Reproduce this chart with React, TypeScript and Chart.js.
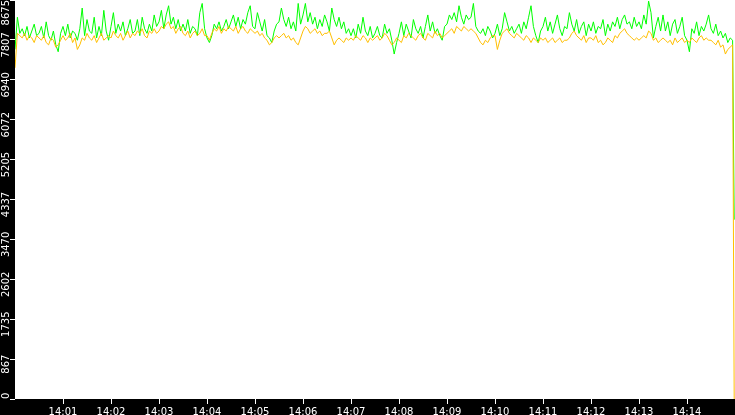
import React, { useEffect, useRef } from 'react';
import { Chart, registerables } from 'chart.js';
Chart.register(...registerables);

// one sample every 3 seconds from 14:00:00
const sampleStepSeconds = 3;
// the last sample (the drop) comes just before 14:15
const finalSampleSecond = 899;

const greenValues = [
  7600, 8300, 7950, 8050, 7900, 8100, 7850, 8000, 8150, 7900,
  7950, 8100, 7850, 8200, 7900, 7800, 8000, 7700, 7550, 7950,
  8100, 7900, 8150, 7850, 8000, 7950, 7800, 8050, 8500, 7900,
  8250, 8000, 7950, 8300, 7850, 8100, 7900, 8450, 8000, 7800,
  8100, 8400, 7950, 8150, 8000, 8200, 7900, 8050, 8250, 7950,
  8000, 8250, 7900, 8300, 8050, 7950, 8150, 8000, 8350, 8100,
  8200, 8450, 8050, 8350, 8550, 8150, 8300, 8050, 8250, 8000,
  8150, 8000, 8250, 7950, 8100, 8050, 7900, 8400, 8600, 8050,
  7850, 7750, 7900, 8150, 8050, 8200, 8000, 8100, 8250, 8050,
  8200, 8350, 8100, 8300, 8050, 8250, 8150, 8400, 8550, 8100,
  8050, 8400, 8200, 8000, 8250, 7900, 7850, 7750, 8000, 8150,
  8200, 8500, 8250, 8100, 8300, 8050, 8200, 8000, 8600, 8150,
  8350, 8600, 8200, 8400, 8150, 8300, 8050, 8250, 8100, 8350,
  8200, 8000, 8500, 8250, 8100, 8300, 8050, 8200, 7950, 8050,
  7900, 8050, 7850, 8150, 7950, 8300, 8000, 7900, 8100, 7850,
  7950, 8100, 7900, 7850, 8150, 7950, 8050, 7800, 7500, 7750,
  7950, 8200, 7900, 8150, 8000, 7850, 8250, 8050, 7950, 8100,
  7850, 8100, 8350, 8000, 8200, 7950, 8050, 7900, 7800, 8100,
  8150, 8350, 8250, 8400, 8200, 8550, 8300, 8150, 8350, 8250,
  8300, 8600, 8100, 8000, 7950, 8050, 7900, 8100, 8000, 7850,
  7950, 8150, 7900, 8050, 8400, 8200, 8000, 8100, 7950, 8050,
  8150, 7950, 8200, 8050, 8300, 8550, 8100, 7900, 7750, 8000,
  8100, 8300, 8000, 8200, 7950, 8150, 8350, 8050, 7900, 8100,
  8050, 8400, 8150, 8000, 8250, 7950, 8100, 8200, 7900, 8150,
  8000, 8200, 7950, 8100, 8050, 8250, 7900, 8150, 8000, 8200,
  8100, 8300, 8050, 8250, 8350, 8150, 8200, 8050, 8300, 8100,
  8200, 8050, 8350, 8150, 8650, 8400, 7850, 8100, 8300, 8000,
  8350, 8000, 8200, 7900, 8150, 8250, 7950, 8100, 8300, 7900,
  7800, 7550, 8050, 7950, 8200, 7900, 8100, 8000, 8150, 8350,
  8050, 7950, 8150, 7900, 8000, 7850, 7950, 7750, 7850, 7800,
  3900,
];

const orangeValues = [
  7200, 7950, 7900, 7850, 7950, 7800, 7900, 7850, 7750, 7900,
  7850, 7800, 7900, 7750, 7700, 7850, 7800, 7650, 7700, 7800,
  7900, 7800, 7850, 7950, 7750, 7850, 7600, 7700, 7850, 7800,
  7950, 7850, 7800, 7900, 7750, 7850, 7950, 7800, 7850, 7900,
  7850, 8000, 7900, 7850, 7950, 7800, 7900, 8000, 7850, 7950,
  7900, 8000, 7950, 8050, 7900, 7850, 8000, 7950, 8050, 7950,
  8000, 8100, 8050, 8150, 8200, 8050, 8100, 7950, 8050, 8100,
  7950, 7900, 8000, 7850, 7950, 8000, 7900, 7950, 8050, 7900,
  7900, 7800, 7950, 8050, 8000, 8100, 7950, 8050, 8000, 8100,
  8050, 8000, 8100, 7950, 8050, 8100, 8000, 7950, 8050, 8000,
  7950, 8000, 7900, 7950, 7850, 7800, 7700, 7750, 7850, 7900,
  7850, 7900, 7950, 7850, 7900, 7800, 7850, 7750, 7700, 7850,
  8000, 8100, 8050, 7950, 8000, 8050, 7950, 8000, 7900, 7950,
  7950, 8000, 7850, 7700, 7800, 7850, 7800, 7750, 7850, 7800,
  7850, 7800, 7900, 7850, 7800, 7900, 7850, 7750, 7850, 7800,
  7850, 7900, 7800, 7850, 7950, 7900, 7800, 7700, 7750, 7850,
  7800, 7750, 7900, 7850, 7950, 7900, 7850, 7800, 7900, 7950,
  7850, 7800, 7950, 7900, 7850, 8000, 7900, 7950, 7850, 7900,
  7950, 8000, 8050, 7950, 8100, 8050, 8000, 8100, 8050, 8000,
  8050, 8000, 7950, 7850, 7750, 7700, 7800, 7750, 7850, 7900,
  7900, 7600, 7800, 7950, 8000, 8050, 7950, 7900, 7850, 7950,
  7900, 7850, 7800, 7900, 7850, 7750, 7850, 7800, 7750, 7850,
  7800, 7850, 7750, 7800, 7850, 7750, 7800, 7850, 7750, 7800,
  7800, 7850, 7950, 8000, 7900, 7850, 7800, 7900, 7750, 7850,
  7850, 7800, 7900, 7750, 7800, 7700, 7750, 7850, 7800, 7750,
  7900, 7850, 7950, 8000, 8050, 7950, 7900, 7850, 7800, 7850,
  7800, 7850, 7900, 7850, 8000, 7950, 7800, 7850, 7750, 7800,
  7850, 7800, 7750, 7800, 7700, 7850, 7750, 7800, 7850, 7750,
  7800, 7750, 7850, 7800, 7750, 7850, 7900, 7800, 7850, 7800,
  7800, 7750, 7700, 7800, 7650, 7700, 7500, 7600, 7650, 7700,
  0,
];

const xTickLabels = [
  '14:01', '14:02', '14:03', '14:04', '14:05', '14:06', '14:07',
  '14:08', '14:09', '14:10', '14:11', '14:12', '14:13', '14:14',
];

const yMax = 8675;
const yTickLabels = ['0', '867', '1735', '2602', '3470', '4337', '5205', '6072', '6940', '7807', '8675'];

const font = { family: 'DejaVu Sans', size: 10 };

// black frame behind the axes, white plot area, rotated y labels
const framePlugin = {
  id: 'frame',
  beforeDraw(chart: Chart) {
    const { ctx, chartArea, width, height } = chart;
    ctx.save();
    ctx.fillStyle = '#000';
    ctx.fillRect(0, 0, width, height);
    ctx.fillStyle = '#fff';
    ctx.fillRect(chartArea.left, chartArea.top, chartArea.right - chartArea.left, chartArea.bottom - chartArea.top);
    ctx.restore();
  },
  afterDraw(chart: Chart) {
    const { ctx, chartArea } = chart;
    const y = chart.scales.y;
    ctx.save();
    ctx.fillStyle = '#fff';
    ctx.font = `${font.size}px "${font.family}"`;
    ctx.textAlign = 'center';
    ctx.textBaseline = 'alphabetic';
    yTickLabels.forEach((label, i) => {
      const py = y.getPixelForValue((i * yMax) / 10);
      const half = ctx.measureText(label).width / 2;
      let center = Math.min(py + 5, chartArea.bottom - half);
      center = Math.max(center, chartArea.top + half);
      ctx.save();
      ctx.translate(9, center);
      ctx.rotate(-Math.PI / 2);
      ctx.fillText(label, 0, 0);
      ctx.restore();
    });
    ctx.restore();
  },
};

const StreamChart = () => {
  const canvasRef = useRef<HTMLCanvasElement | null>(null);

  useEffect(() => {
    document.body.style.margin = '0';
    if (!canvasRef.current) return;

    const toPoints = (values: number[]) =>
      values.map((v, i) => ({
        x: i === values.length - 1 ? finalSampleSecond : i * sampleStepSeconds,
        y: v,
      }));

    // dataset 0 is painted last, so orange sits on top of green
    const chart = new Chart(canvasRef.current, {
      type: 'line',
      data: {
        datasets: [
          {
            data: toPoints(orangeValues),
            borderColor: '#ffbf00',
            borderWidth: 1,
            pointRadius: 0,
            tension: 0,
          },
          {
            data: toPoints(greenValues),
            borderColor: '#00ff00',
            borderWidth: 1,
            pointRadius: 0,
            tension: 0,
          },
        ],
      },
      options: {
        animation: false,
        responsive: false,
        devicePixelRatio: 1,
        layout: { padding: 0 },
        plugins: {
          legend: { display: false },
          tooltip: { enabled: false },
        },
        scales: {
          x: {
            type: 'linear',
            min: 0,
            max: 900,
            border: { display: false },
            grid: { drawOnChartArea: false, color: '#fff', tickLength: 5 },
            afterBuildTicks: (scale: any) => {
              scale.ticks = xTickLabels.map((l) => ({ value: Number(l.split(':')[1]) * 60 }));
            },
            afterFit: (scale: any) => {
              scale.height = 16;
            },
            ticks: {
              color: '#fff',
              font,
              padding: 2,
              maxRotation: 0,
              autoSkip: false,
              callback: (_v: any, i: number) => xTickLabels[i],
            },
          },
          y: {
            min: 0,
            max: yMax,
            border: { display: false },
            grid: { drawOnChartArea: false, color: '#fff', tickLength: 5 },
            afterBuildTicks: (scale: any) => {
              scale.ticks = yTickLabels.map((_l, i) => ({ value: (i * yMax) / 10 }));
            },
            afterFit: (scale: any) => {
              scale.width = 15;
            },
            ticks: { display: false },
          },
        },
      },
      plugins: [framePlugin],
    });

    return () => chart.destroy();
  }, []);

  return (
    <div style={{ width: '735px', height: '415px' }}>
      <canvas ref={canvasRef} width={735} height={415} />
    </div>
  );
};

const App = () => <StreamChart />;

export default App;
